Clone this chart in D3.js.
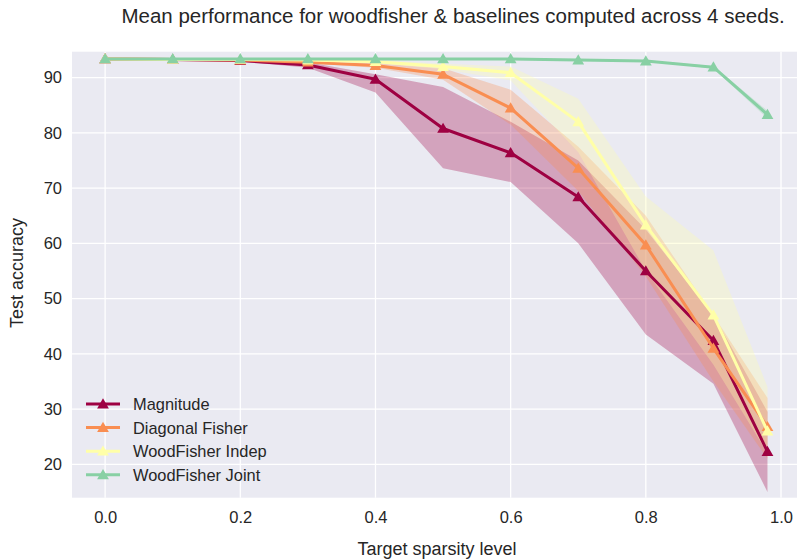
<!DOCTYPE html>
<html><head><meta charset="utf-8">
<script src="https://cdn.jsdelivr.net/npm/d3@7"></script>
<style>
body{margin:0;background:#fff;}
svg text{font-family:"Liberation Sans",Arial,sans-serif;fill:#262626;}
</style></head>
<body><svg id="c" width="797" height="560"></svg>
<script>
const sparsity = [0, 0.1, 0.2, 0.3, 0.4, 0.5, 0.6, 0.7, 0.8, 0.9, 0.98];
const seriesNames = ["Magnitude", "Diagonal Fisher", "WoodFisher Indep", "WoodFisher Joint"];
const seriesColors = ["#9e0142", "#f98e52", "#ffffa8", "#88d0a4"];

const magnitudeMean = [93.4, 93.3, 93.1, 92.3, 89.7, 80.8, 76.4, 68.4, 55.0, 42.4, 22.3];
const magnitudeLow  = [93.3, 93.2, 92.9, 91.8, 87.3, 73.6, 71.1, 60.0, 43.5, 34.6, 15.0];
const magnitudeHigh = [93.5, 93.4, 93.3, 92.8, 90.6, 88.3, 82.0, 75.0, 62.5, 47.0, 29.5];

const diagMean = [93.4, 93.3, 93.2, 92.8, 92.2, 90.6, 84.5, 73.6, 59.7, 41.0, 26.8];
const diagLow  = [93.3, 93.2, 93.1, 92.6, 91.8, 89.6, 81.5, 69.5, 54.0, 35.0, 21.0];
const diagHigh = [93.5, 93.4, 93.3, 93.0, 92.6, 91.7, 87.8, 77.5, 65.0, 47.0, 32.0];

const indepMean = [93.4, 93.3, 93.3, 93.2, 92.9, 92.0, 90.9, 82.0, 63.3, 47.0, 26.0];
const indepLow  = [93.3, 93.2, 93.2, 93.0, 92.6, 91.5, 89.5, 76.5, 55.0, 38.0, 22.0];
const indepHigh = [93.5, 93.4, 93.4, 93.4, 93.2, 92.5, 92.0, 86.2, 68.5, 58.7, 34.0];

const jointMean = [93.4, 93.4, 93.4, 93.4, 93.4, 93.4, 93.4, 93.2, 93.0, 91.9, 83.3];
const jointLow  = [93.3, 93.3, 93.3, 93.3, 93.3, 93.3, 93.3, 93.1, 92.9, 91.7, 82.6];
const jointHigh = [93.5, 93.5, 93.5, 93.5, 93.5, 93.5, 93.5, 93.3, 93.1, 92.1, 84.0];

const xTicks = [0.0, 0.2, 0.4, 0.6, 0.8, 1.0];
const yTicks = [20, 30, 40, 50, 60, 70, 80, 90];

const titleText = "Mean performance for woodfisher & baselines computed across 4 seeds.";
const xLabel = "Target sparsity level";
const yLabel = "Test accuracy";

const series = [
  {name: seriesNames[0], color: seriesColors[0], mean: magnitudeMean, lo: magnitudeLow, hi: magnitudeHigh},
  {name: seriesNames[1], color: seriesColors[1], mean: diagMean, lo: diagLow, hi: diagHigh},
  {name: seriesNames[2], color: seriesColors[2], mean: indepMean, lo: indepLow, hi: indepHigh},
  {name: seriesNames[3], color: seriesColors[3], mean: jointMean, lo: jointLow, hi: jointHigh}
];

const svg = d3.select("#c");
const L = 72, R = 800.6, T = 51.7, B = 497.7;
const x = d3.scaleLinear().domain([-0.049, 1.029]).range([L, R]);
const y = d3.scaleLinear().domain([13.95, 94.7]).range([B, T]);

const defs = svg.append("defs");
defs.append("clipPath").attr("id","clip").append("rect")
  .attr("x", L).attr("y", T).attr("width", R - L).attr("height", B - T);

svg.append("rect").attr("x", L).attr("y", T).attr("width", R - L).attr("height", B - T).attr("fill", "#eaeaf2");

// grid
const grid = svg.append("g");
grid.selectAll(".gx").data(xTicks).join("line")
  .attr("x1", d => x(d)).attr("x2", d => x(d)).attr("y1", T).attr("y2", B)
  .attr("stroke", "#fff").attr("stroke-width", 1.3);
grid.selectAll(".gy").data(yTicks).join("line")
  .attr("y1", d => y(d)).attr("y2", d => y(d)).attr("x1", L).attr("x2", R)
  .attr("stroke", "#fff").attr("stroke-width", 1.3);

// axes
const xAxis = svg.append("g").attr("transform", `translate(0,${B})`)
  .call(d3.axisBottom(x).tickValues(xTicks).tickFormat(d3.format(".1f")).tickSize(0).tickPadding(14));
const yAxis = svg.append("g").attr("transform", `translate(${L},0)`)
  .call(d3.axisLeft(y).tickValues(yTicks).tickFormat(d3.format("d")).tickSize(0).tickPadding(10));
[xAxis, yAxis].forEach(a => { a.select(".domain").remove(); a.selectAll("text").attr("font-size", 16.5).attr("fill", "#262626"); });

const plot = svg.append("g").attr("clip-path", "url(#clip)");
const area = d3.area().x((d, i) => x(sparsity[i])).y0(d => y(d[0])).y1(d => y(d[1]));
const line = d3.line().x((d, i) => x(sparsity[i])).y(d => y(d));
const tri = d3.symbol().type(d3.symbolTriangle).size(60);

series.forEach(s => {
  plot.append("path").datum(s.lo.map((v, i) => [v, s.hi[i]])).attr("d", area)
    .attr("fill", s.color).attr("fill-opacity", 0.3).attr("stroke", "none");
});
series.forEach(s => {
  const g = plot.append("g");
  g.append("path").datum(s.mean).attr("d", line).attr("fill", "none")
    .attr("stroke", s.color).attr("stroke-width", 3).attr("stroke-linejoin", "round");
  g.selectAll("path.m").data(s.mean).join("path").attr("class", "m")
    .attr("transform", (d, i) => `translate(${x(sparsity[i])},${y(d) + 1})`)
    .attr("d", tri).attr("fill", s.color);
});

// legend
const leg = svg.append("g");
series.forEach((s, i) => {
  const yy = 404 + i * 23.6;
  leg.append("line").attr("x1", 86).attr("x2", 120).attr("y1", yy).attr("y2", yy)
    .attr("stroke", s.color).attr("stroke-width", 3);
  leg.append("path").attr("transform", `translate(103,${yy + 1})`).attr("d", tri).attr("fill", s.color);
  leg.append("text").attr("x", 133).attr("y", yy + 6).attr("font-size", 16.4).text(s.name);
});

svg.append("text").attr("x", 453).attr("y", 23).attr("text-anchor", "middle").attr("font-size", 20.5).text(titleText);
svg.append("text").attr("x", 437).attr("y", 555).attr("text-anchor", "middle").attr("font-size", 18).text(xLabel);
svg.append("text").attr("transform", "translate(23,273) rotate(-90)").attr("text-anchor", "middle").attr("font-size", 18).text(yLabel);
</script></body></html>
